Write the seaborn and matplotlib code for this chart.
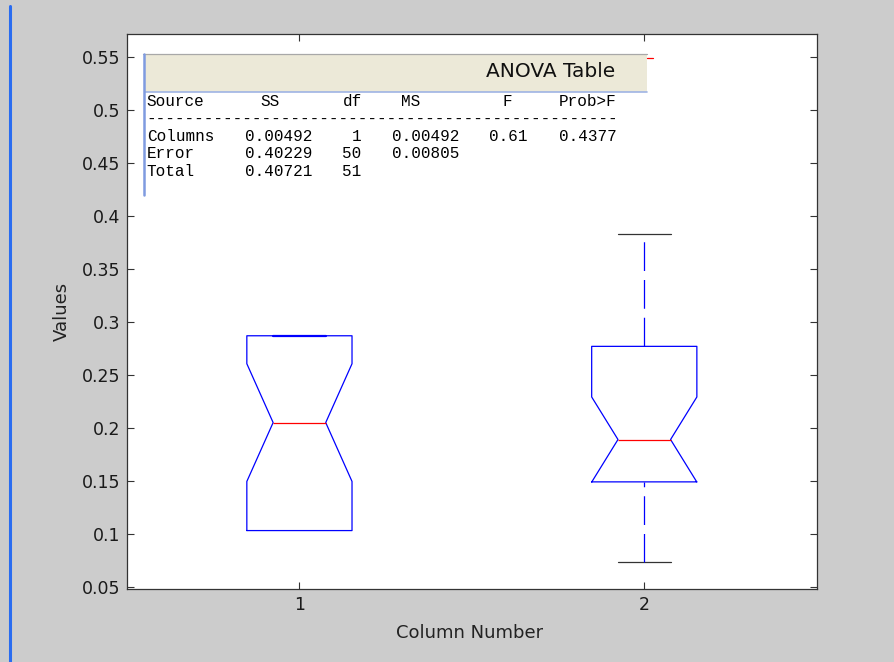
import pandas as pd
import numpy as np
import matplotlib.pyplot as plt
import seaborn as sns
from matplotlib.patches import Rectangle
from matplotlib.lines import Line2D

# values per column
col1_values = [0.103, 0.103, 0.103, 0.103, 0.103, 0.103, 0.103, 0.103,
               0.121, 0.139, 0.156, 0.174, 0.191, 0.205,
               0.219, 0.236, 0.251, 0.263, 0.276,
               0.287, 0.287, 0.287, 0.287, 0.287, 0.287, 0.287, 0.287]
col2_values = [0.073, 0.097, 0.114, 0.126, 0.135, 0.143, 0.149,
               0.156, 0.163, 0.170, 0.177, 0.183, 0.189,
               0.198, 0.211, 0.226, 0.243, 0.260, 0.277,
               0.292, 0.308, 0.326, 0.345, 0.364, 0.383]
columns = ['1', '2']
ytick_values = [0.05, 0.1, 0.15, 0.2, 0.25, 0.3, 0.35, 0.4, 0.45, 0.5, 0.55]
ytick_labels = ['0.05', '0.1', '0.15', '0.2', '0.25', '0.3', '0.35', '0.4', '0.45', '0.5', '0.55']

# ANOVA table text
anova_header = ['Source', 'SS', 'df', 'MS', 'F', 'Prob>F']
anova_rows = [
    ['Columns', '0.00492', '1', '0.00492', '0.61', '0.4377'],
    ['Error', '0.40229', '50', '0.00805', '', ''],
    ['Total', '0.40721', '51', '', '', ''],
]

df = pd.DataFrame({
    'Column Number': [columns[0]] * len(col1_values) + [columns[1]] * len(col2_values),
    'Values': col1_values + col2_values,
})

sns.set_style('ticks')
plt.rcParams['font.family'] = ['DejaVu Sans']

W, H = 894, 662
fig = plt.figure(figsize=(W / 100, H / 100), dpi=100, facecolor='#cccccc')
ax = fig.add_axes([127 / W, 1 - 588.7 / H, 689.7 / W, 555.2 / H])
ax.set_facecolor('white')

sns.boxplot(data=df, x='Column Number', y='Values', order=columns, ax=ax,
            notch=True, width=0.305, fill=False, color='blue', linewidth=0.9,
            showfliers=False,
            boxprops=dict(color='blue', zorder=3),
            whiskerprops=dict(color='blue', linestyle=(0, (23, 7.2)), zorder=2),
            capprops=dict(color='#333333', zorder=1.5),
            medianprops=dict(color='red', zorder=3))

# caps sitting on the box edge (no whisker): top one shows as a thick blue edge,
# bottom one is hidden; lower whiskers dash from the cap side
for ln in ax.lines:
    y = ln.get_ydata()
    if ln.get_color() == '#333333' and abs(np.mean(ln.get_xdata())) < 0.01:
        ln.set_color('blue')
        if abs(y[0] - max(col1_values)) < 1e-9:
            ln.set_linewidth(1.6)
        else:
            ln.set_visible(False)
    elif ln.get_color() == 'blue' and len(y) == 2 and y[0] > y[1]:
        ln.set_linestyle((19.2, (23, 7.2)))

ax.set_xlim(-0.5, 1.5)
ax.set_ylim(0.0481, 0.5725)
ax.set_yticks(ytick_values)
ax.set_yticklabels(ytick_labels)
ax.tick_params(direction='in', top=True, right=True, length=4.8, width=0.8,
               color='#333333', labelsize=12.5, labelcolor='#1a1a1a', pad=5)
for s in ax.spines.values():
    s.set_color('#333333')
    s.set_linewidth(0.9)

ax.set_xlabel('Column Number', fontsize=13, color='#222222', va='center')
ax.set_ylabel('Values', fontsize=13, color='#222222', va='center')
ax.xaxis.set_label_coords(0.497, -0.0798)
ax.yaxis.set_label_coords(-0.094, 0.5)


def fx(px):
    return px / W


def fy(py):
    return 1 - py / H


# ANOVA panel drawn over the axes
fig.patches.append(Rectangle((fx(145), fy(91.7)), fx(647) - fx(145), fy(54) - fy(91.7),
                             transform=fig.transFigure, facecolor='#ece9d8',
                             edgecolor='none', zorder=5))
fig.lines.append(Line2D([fx(143), fx(647)], [fy(53.7)] * 2, transform=fig.transFigure,
                        color='#a8a8a8', lw=0.9, zorder=6))
fig.lines.append(Line2D([fx(145), fx(647)], [fy(91.7)] * 2, transform=fig.transFigure,
                        color='#9fb4e4', lw=1.2, zorder=6))
fig.lines.append(Line2D([fx(143.8)] * 2, [fy(54), fy(195)], transform=fig.transFigure,
                        color='#7f9be0', lw=1.8, zorder=6))
fig.lines.append(Line2D([fx(647), fx(653)], [fy(58.4)] * 2, transform=fig.transFigure,
                        color='red', lw=0.9, zorder=6))
fig.text(fx(615), fy(76.7), 'ANOVA Table', fontsize=14.5, color='#111111',
         ha='right', va='baseline', zorder=7)

mono = dict(family=['Liberation Mono', 'DejaVu Sans Mono'], fontsize=11.5,
            color='black', va='center', zorder=7)
header_x = [146.7, 270, 352.3, 410.8, 507.3, 616.7]
header_ha = ['left', 'center', 'center', 'center', 'center', 'right']
for txt, x, ha in zip(anova_header, header_x, header_ha):
    fig.text(fx(x), fy(101.7), txt, ha=ha, **mono)
fig.text(fx(146.7), fy(119), '-' * 49, ha='left', **mono)
row_y = [136.7, 154, 171]
cell_x = [146.7, 312.3, 361.7, 459.3, 527.3, 616.7]
for row, y in zip(anova_rows, row_y):
    for i, txt in enumerate(row):
        fig.text(fx(cell_x[i]), fy(y), txt, ha='left' if i == 0 else 'right', **mono)

# blue strip at the left edge of the window
fig.lines.append(Line2D([fx(9.7)] * 2, [fy(6), 0], transform=fig.transFigure,
                        color='#2a6cf0', lw=2.2))

fig.savefig('out.png', dpi=100, facecolor=fig.get_facecolor())
